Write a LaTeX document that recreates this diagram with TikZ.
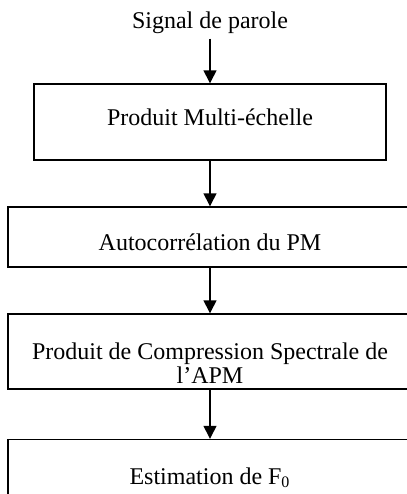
\documentclass[tikz,border=0pt]{standalone}
\usepackage{fontspec}
\setmainfont{Liberation Serif}
\usetikzlibrary{arrows.meta}
\tikzset{
  blk/.style={draw, line width=0.7pt, inner sep=0pt, minimum width=#1},
  lbl/.style={anchor=base, font=\fontsize{12}{14}\selectfont, inner sep=2.5pt},
  flow/.style={line width=0.7pt, -{Triangle[length=6.5pt,width=6.5pt]}},
}
\begin{document}
\begin{tikzpicture}[x=0.5pt,y=-0.5pt]
\useasboundingbox (0,0) rectangle (407,494);
\clip (0,0) rectangle (407,494);
\node[lbl] (sig) at (210,28) {Signal de parole};
\node[blk=176pt, minimum height=38pt] (pm) at (210,122) {};
\node[lbl] (pmt) at (210,125) {Produit Multi-échelle};
\node[blk=202pt, minimum height=30pt] (ac) at (210,237) {};
\node[lbl] (act) at (210,250) {Autocorrélation du PM};
\node[blk=202pt, minimum height=37.5pt] (pcs) at (210,351.5) {};
\node[lbl] (pcs1) at (210,359) {Produit de Compression Spectrale de};
\node[lbl] (pcs2) at (210,383) {l’APM};
\node[blk=202pt, minimum height=31pt] (est) at (210,470.5) {};
\node[lbl] (estt) at (210,484) {Estimation de F\textsubscript{0}};
\draw[flow] (sig) -- (pm);
\draw[flow] (pm) -- (ac);
\draw[flow] (ac) -- (pcs);
\draw[flow] (pcs) -- (est);
\end{tikzpicture}
\end{document}
